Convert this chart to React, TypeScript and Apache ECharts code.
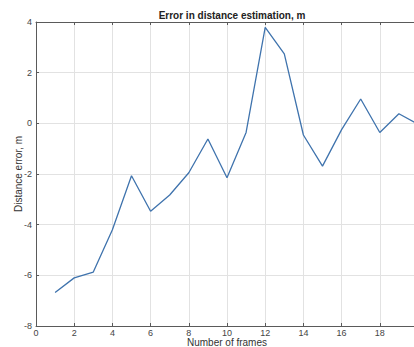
import React, { useEffect, useRef } from "react";
import * as echarts from "echarts";

// Per-frame distance estimation error
const frames = [1, 2, 3, 4, 5, 6, 7, 8, 9, 10, 11, 12, 13, 14, 15, 16, 17, 18, 19, 20];
const errors = [-6.68, -6.1, -5.87, -4.2, -2.07, -3.47, -2.83, -1.95, -0.62, -2.15, -0.36, 3.79, 2.74, -0.46, -1.69, -0.25, 0.96, -0.36, 0.38, -0.03];

const titleText = "Error in distance estimation, m";
const xName = "Number of frames";
const yName = "Distance error, m";

export default function App() {
  const ref = useRef<HTMLDivElement>(null);

  useEffect(() => {
    if (!ref.current) return;
    const chart = echarts.init(ref.current, undefined, { renderer: "svg" });
    const font = "Liberation Sans, Arial, sans-serif";
    const axisColor = "#5a5a5a";
    const gridColor = "#e2e2e2";
    chart.setOption({
      animation: false,
      backgroundColor: "#ffffff",
      title: {
        text: titleText,
        left: 227,
        textAlign: "center",
        top: 5,
        textStyle: { fontFamily: font, fontSize: 10, fontWeight: "bold", color: "#222" },
      },
      grid: { left: 36, right: -4, top: 22, bottom: 21, containLabel: false, outerBoundsMode: "none" },
      xAxis: [
        {
          type: "value",
          min: 0,
          max: 20,
          interval: 2,
          name: xName,
          nameLocation: "middle",
          nameGap: 11,
          nameMoveOverlap: false,
          nameTextStyle: { fontFamily: font, fontSize: 10, color: "#333", lineHeight: 10 },
          axisLine: { show: true, onZero: false, lineStyle: { color: axisColor, width: 1 } },
          axisTick: { show: true, inside: true, length: 3, lineStyle: { color: axisColor } },
          axisLabel: {
            fontFamily: font,
            fontSize: 9,
            lineHeight: 9,
            color: "#444",
            margin: 2,
            formatter: (v: number) => (v >= 20 ? "" : String(v)),
          },
          splitLine: { show: true, lineStyle: { color: gridColor, width: 1 } },
        },
        {
          type: "value",
          position: "top",
          min: 0,
          max: 20,
          interval: 2,
          axisLine: { show: true, onZero: false, lineStyle: { color: axisColor, width: 1 } },
          axisTick: { show: true, inside: true, length: 3, lineStyle: { color: axisColor } },
          axisLabel: { show: false },
          splitLine: { show: false },
        },
      ],
      yAxis: {
        type: "value",
        min: -8,
        max: 4,
        interval: 2,
        name: yName,
        nameLocation: "middle",
        nameGap: 13,
        nameMoveOverlap: false,
        nameTextStyle: { fontFamily: font, fontSize: 10, color: "#333" },
        axisLine: { show: true, onZero: false, lineStyle: { color: axisColor, width: 1 } },
        axisTick: { show: true, inside: true, length: 3, lineStyle: { color: axisColor } },
        axisLabel: { fontFamily: font, fontSize: 9, color: "#444", margin: 4 },
        splitLine: { show: true, lineStyle: { color: gridColor, width: 1 } },
      },
      series: [
        {
          type: "line",
          data: frames.map((f, i) => [f, errors[i]]),
          showSymbol: false,
          lineStyle: { color: "#3f73ad", width: 1.3 },
          clip: true,
        },
      ],
    });
    return () => chart.dispose();
  }, []);

  return <div ref={ref} style={{ width: 414, height: 347, position: "absolute", left: 0, top: 0 }} />;
}
